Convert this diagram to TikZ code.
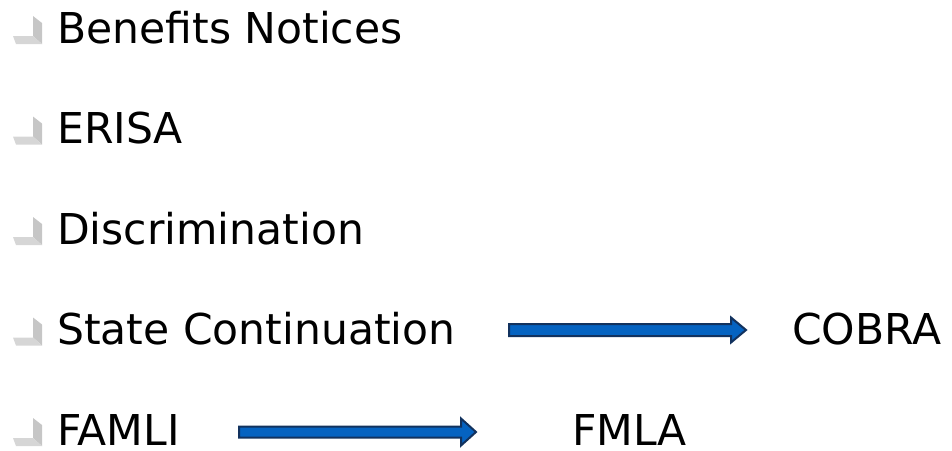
\documentclass[tikz,border=0pt]{standalone}
\usepackage{fontspec}
\setmainfont{DejaVu Sans}
\usetikzlibrary{calc}
\definecolor{arrowfill}{HTML}{0563C1}
\definecolor{arrowline}{HTML}{12325E}
\definecolor{tickdark}{HTML}{C6C6C6}
\definecolor{ticklight}{HTML}{D6D6D6}
\tikzset{
  item/.style={anchor=base west, inner sep=0pt, font=\fontsize{42.5}{50}\selectfont},
  blockarrow/.style={draw=arrowline, fill=arrowfill, line width=2pt, line join=miter},
  pics/tick/.style={code={
      \fill[tickdark] (-24,-27) -- (-15,-20) -- (-15,1) -- (-24,-7) -- cycle;
      \fill[ticklight] (-44,-7) -- (-24,-7) -- (-15,1) -- (-41,1) -- cycle;
  }}
}

\begin{document}
\begin{tikzpicture}[x=1pt, y=-1pt]
	\useasboundingbox (0,0) rectangle (952,450);
	% list items
	\node[item] (benefits) at (57,43) {Benefits Notices};
	\node[item] (erisa) at (57,143.5) {ERISA};
	\node[item] (discrim) at (57,244) {Discrimination};
	\node[item] (state) at (57,344.5) {State Continuation};
	\node[item] (famli) at (57,445) {FAMLI};
	\foreach \n in {benefits, erisa, discrim, state, famli}
		\pic at (\n.base west) {tick};
	% targets
	\node[item] (cobra) at (792,344.5) {COBRA};
	\node[item] (fmla) at (572,445) {FMLA};
	% block arrows
	\coordinate (s1) at (509,330);
	\coordinate (e1) at (746,330);
	\coordinate (s2) at (239,432);
	\coordinate (e2) at (476,432);
	\draw[blockarrow] ($(s1)+(0,-6)$) -- ($(e1)+(-15,-6)$) -- ($(e1)+(-15,-12.5)$) -- (e1)
		-- ($(e1)+(-15,12.5)$) -- ($(e1)+(-15,6)$) -- ($(s1)+(0,6)$) -- cycle;
	\draw[blockarrow] ($(s2)+(0,-5.5)$) -- ($(e2)+(-15,-5.5)$) -- ($(e2)+(-15,-13.5)$) -- (e2)
		-- ($(e2)+(-15,13.5)$) -- ($(e2)+(-15,5.5)$) -- ($(s2)+(0,5.5)$) -- cycle;
	%\draw[blockarrow] (state.east) -- (cobra.west);
\end{tikzpicture}
\end{document}
